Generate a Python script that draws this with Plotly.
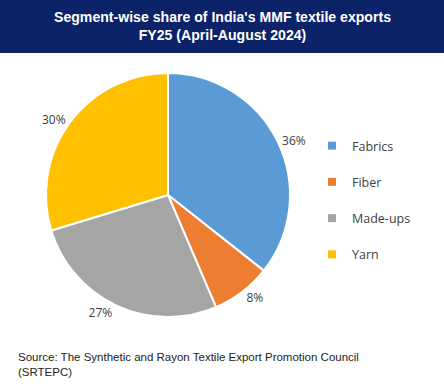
import plotly.graph_objects as go

segments = ["Fabrics", "Fiber", "Made-ups", "Yarn"]
shares = [36, 8, 27, 30]
colors = ["#5B9BD5", "#ED7D31", "#A5A5A5", "#FFC000"]

title_lines = ["Segment-wise share of India's MMF textile exports", "FY25 (April-August 2024)"]
source_text = "Source: The Synthetic and Rayon Textile Export Promotion Council<br>(SRTEPC)"

W, H = 444, 388

fig = go.Figure()
fig.add_trace(go.Pie(
    labels=segments, values=shares,
    marker=dict(colors=colors, line=dict(color="white", width=2)),
    sort=False, direction="clockwise", rotation=0,
    textposition="outside", texttemplate="%{value}%",
    textfont=dict(family="Open Sans", size=12, color="#404040"),
    showlegend=False, hoverinfo="label+percent",
    domain=dict(x=[46/W, 290/W], y=[1-317/H, 1-73/H]),
))

for i, (name, c) in enumerate(zip(segments, colors)):
    fig.add_trace(go.Scatter(
        x=[None], y=[None], mode="markers", name=name,
        marker=dict(symbol="square", size=8, color=c),
        legendgroup=f"g{i}", showlegend=True,
    ))

fig.update_layout(
    width=W, height=H,
    margin=dict(l=0, r=0, t=0, b=0),
    paper_bgcolor="white", plot_bgcolor="white",
    xaxis=dict(visible=False), yaxis=dict(visible=False),
    legend=dict(
        x=312/W, y=1-131/H, xanchor="left", yanchor="top",
        font=dict(family="Open Sans", size=12.5, color="#404040"),
        tracegroupgap=17, itemsizing="trace", bgcolor="rgba(0,0,0,0)",
    ),
    shapes=[dict(type="rect", xref="paper", yref="paper",
                 x0=0, x1=1, y0=1-53/H, y1=1, fillcolor="#0D2369",
                 line=dict(width=0), layer="below")],
    annotations=[
        dict(text="<b>" + title_lines[0] + "<br>" + title_lines[1] + "</b>",
             xref="paper", yref="paper", x=0.5, y=1-26/H,
             xanchor="center", yanchor="middle", showarrow=False,
             font=dict(family="Liberation Sans, Arial", size=14.1, color="white")),
        dict(text=source_text, xref="paper", yref="paper", x=16/W, y=1-364/H,
             xanchor="left", yanchor="middle", align="left", showarrow=False,
             font=dict(family="Liberation Sans, Arial", size=11.5, color="#222222")),
    ],
)

fig.write_html("out.html", config={"displayModeBar": False},
               post_script="document.body.style.margin='0';")
